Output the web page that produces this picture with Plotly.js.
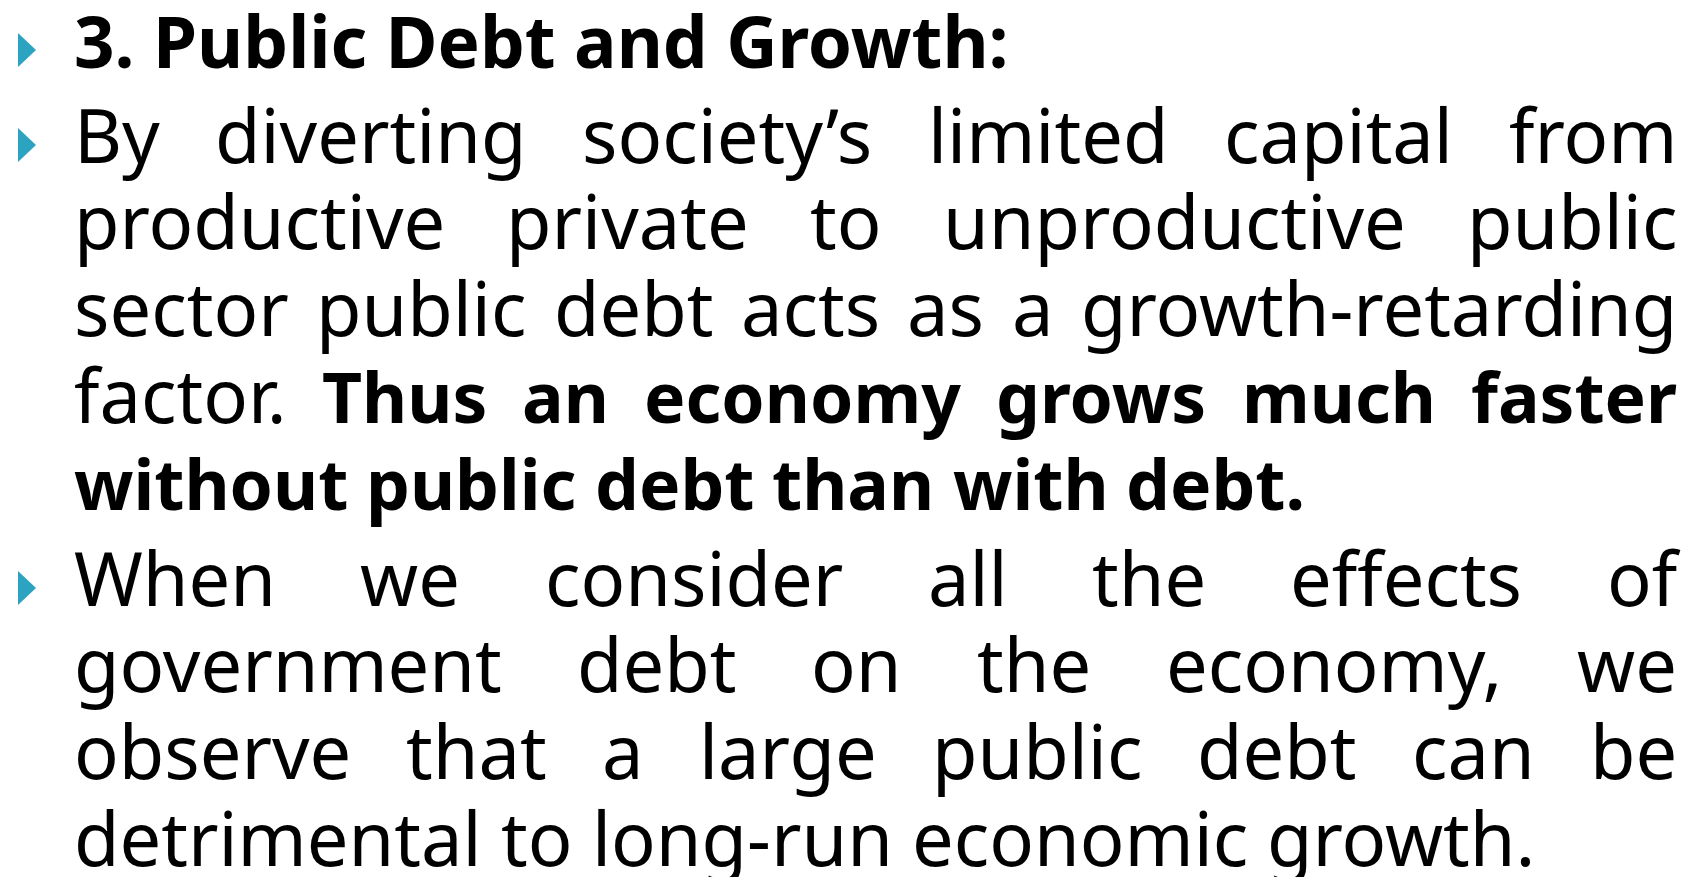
<!DOCTYPE html>
<html><head><meta charset="utf-8">
<script src="https://cdn.plot.ly/plotly-3.0.1.min.js"></script>
<style>html,body{margin:0;padding:0;background:#fff;overflow:hidden}</style>
</head><body><div id="chart" style="width:1704px;height:877px"></div>
<script>
// ---- content ----
const titleText = "3. Public Debt and Growth:";
const para1Lines = [
  "By diverting society’s limited capital from",
  "productive private to unproductive public",
  "sector public debt acts as a growth-retarding",
  "factor. Thus an economy grows much faster",
  "without public debt than with debt."
];
const para1BoldFrom = [-1, -1, -1, 1, 0];   // index of first bold word in each line (-1 = none)
const para2Lines = [
  "When we consider all the effects of",
  "government debt on the economy, we",
  "observe that a large public debt can be",
  "detrimental to long-run economic growth."
];
const para2BoldFrom = [-1, -1, -1, -1];

// ---- layout / style ----
const W = 1704, H = 877;
const FONT = "Noto Sans";
const regularSize = 74, boldSize = 69.5, titleSize = 71;
const leftX = 74, rightX = 1677;
const pitch = 86.7;
const titleBaseline = 68, para1Baseline = 163, para2Baseline = 606;
const bulletColor = "#2CA3C0";
const ASC = 1.069, DESC = 0.293;

const ctx = document.createElement('canvas').getContext('2d');
function measure(t, size, bold) {
  ctx.font = (bold ? 'bold ' : '') + size + 'px "' + FONT + '"';
  return ctx.measureText(t).width;
}

const annotations = [];
const shapes = [];
function addText(text, x, baseline, size, bold) {
  annotations.push({
    xref: 'x', yref: 'y', x: x, y: baseline - (ASC - DESC) / 2 * size,
    xanchor: 'left', yanchor: 'middle',
    text: bold ? '<b>' + text + '</b>' : text,
    showarrow: false, borderpad: 0, borderwidth: 0,
    font: { family: FONT, size: size, color: '#000000' }
  });
}
function addBullet(baseline) {
  const cy = baseline - 18;
  shapes.push({
    type: 'path', xref: 'x', yref: 'y',
    path: 'M 18 ' + (cy - 17) + ' L 36 ' + cy + ' L 18 ' + (cy + 17) + ' Z',
    fillcolor: bulletColor, line: { width: 0 }
  });
}
function addParagraph(lines, boldFrom, startBaseline) {
  addBullet(startBaseline);
  lines.forEach(function (line, i) {
    const baseline = startBaseline + i * pitch;
    const words = line.split(' ');
    const bf = boldFrom[i];
    const isBold = function (j) { return bf >= 0 && j >= bf; };
    const sizeOf = function (j) { return isBold(j) ? boldSize : regularSize; };
    const widths = words.map(function (w, j) { return measure(w, sizeOf(j), isBold(j)); });
    const total = widths.reduce(function (a, b) { return a + b; }, 0);
    const lastLine = i === lines.length - 1;
    const gap = lastLine ? measure(' ', sizeOf(0), bf >= 0) : (rightX - leftX - total) / (words.length - 1);
    let x = leftX;
    words.forEach(function (w, j) {
      addText(w, x, baseline, sizeOf(j), isBold(j));
      x += widths[j] + gap;
    });
  });
}

addBullet(titleBaseline);
addText(titleText, leftX, titleBaseline, titleSize, true);
addParagraph(para1Lines, para1BoldFrom, para1Baseline);
addParagraph(para2Lines, para2BoldFrom, para2Baseline);

Plotly.newPlot('chart', [], {
  width: W, height: H,
  margin: { l: 0, r: 0, t: 0, b: 0 },
  paper_bgcolor: '#ffffff', plot_bgcolor: '#ffffff',
  xaxis: { range: [0, W], visible: false, fixedrange: true },
  yaxis: { range: [H, 0], visible: false, fixedrange: true },
  showlegend: false,
  annotations: annotations,
  shapes: shapes
}, { displayModeBar: false, staticPlot: true });
</script>
</body></html>
